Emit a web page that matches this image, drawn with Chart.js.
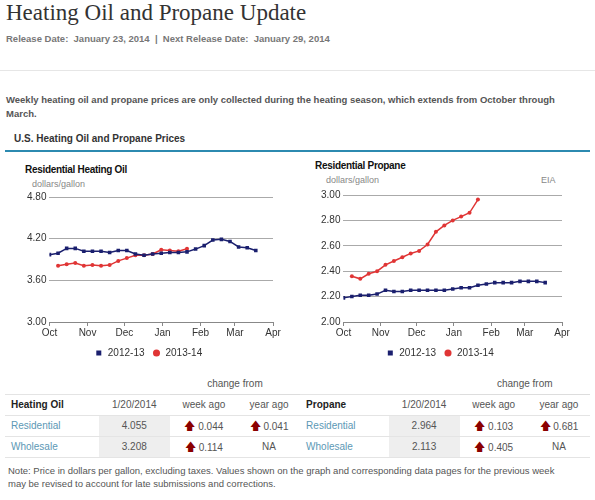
<!DOCTYPE html>
<html><head><meta charset="utf-8">
<script src="https://cdn.jsdelivr.net/npm/chart.js@4/dist/chart.umd.min.js"></script>
<style>
body{margin:0;width:595px;height:500px;background:#fff;font-family:Arial,"Liberation Sans",sans-serif;position:relative;overflow:hidden;color:#333}
.abs{position:absolute}
h1{position:absolute;left:6px;top:0;margin:0;font-family:"Liberation Serif","DejaVu Serif",serif;font-weight:normal;font-size:23px;color:#333}
.rel{left:6px;top:33px;font-size:9.5px;color:#777;font-weight:bold}
.intro{left:6px;top:93px;font-size:9.5px;color:#555;width:570px;line-height:14px;font-weight:bold}
.sec{left:14px;top:133px;font-size:10px;font-weight:bold;color:#333}
.bar{left:5px;top:150px;width:585px;height:2px;background:#2c8ab0}
.ct{font-size:10px;font-weight:bold;color:#111;letter-spacing:-0.3px}
.un{font-size:9px;color:#888}
table{position:absolute;left:5px;top:374px;width:585px;border-collapse:collapse;font-size:10px;color:#555}
td{height:20px;padding:0;line-height:12px;text-align:center;border-bottom:1px solid #e4e4e4}
td.l{text-align:left;padding-left:6px}
td.hd{color:#222;font-weight:bold}
td.lk{color:#5c98b5;text-align:left;padding-left:6px}
td.v{background:#eee}
.up{color:#8b0000;font-size:11px}
.note{left:8px;top:464px;font-size:9.5px;color:#555;width:560px;line-height:13px}
</style></head><body>
<h1>Heating Oil and Propane Update</h1>
<div class="abs rel">Release Date:&nbsp; January 23, 2014 &nbsp;|&nbsp; Next Release Date:&nbsp; January 29, 2014</div>
<div class="abs" style="left:0;top:70px;width:595px;height:1px;background:#e6e6e6"></div>
<div class="abs intro">Weekly heating oil and propane prices are only collected during the heating season, which extends from October through March.</div>
<div class="abs sec">U.S. Heating Oil and Propane Prices</div>
<div class="abs bar"></div>
<div class="abs ct" style="left:25px;top:164px">Residential Heating Oil</div>
<div class="abs un" style="left:32px;top:179px">dollars/gallon</div>
<div class="abs ct" style="left:315px;top:160px">Residential Propane</div>
<div class="abs un" style="left:326px;top:175px">dollars/gallon</div>
<div class="abs un" style="left:541px;top:175px">EIA</div>
<div class="abs" style="left:10px;top:188px;width:285px;height:180px"><canvas id="c1"></canvas></div>
<div class="abs" style="left:300px;top:186px;width:290px;height:182px"><canvas id="c2"></canvas></div>
<table>
<tr><td></td><td></td><td colspan="2" style="border-bottom:1px solid #ddd">change from</td><td></td><td></td><td colspan="2" style="border-bottom:1px solid #ddd">change from</td></tr>
<tr><td class="l hd">Heating Oil</td><td>1/20/2014</td><td>week ago</td><td>year ago</td><td class="l hd">Propane</td><td>1/20/2014</td><td>week ago</td><td>year ago</td></tr>
<tr><td class="lk">Residential</td><td class="v">4.055</td><td><span class="up">&#129093;</span> 0.044</td><td><span class="up">&#129093;</span> 0.041</td><td class="lk">Residential</td><td class="v">2.964</td><td><span class="up">&#129093;</span> 0.103</td><td><span class="up">&#129093;</span> 0.681</td></tr>
<tr><td class="lk">Wholesale</td><td class="v">3.208</td><td><span class="up">&#129093;</span> 0.114</td><td>NA</td><td class="lk">Wholesale</td><td class="v">2.113</td><td><span class="up">&#129093;</span> 0.405</td><td>NA</td></tr>
</table>
<div class="abs note">Note: Price in dollars per gallon, excluding taxes. Values shown on the graph and corresponding data pages for the previous week may be revised to account for late submissions and corrections.</div>
<script>
// days since Oct 1 for month ticks
const monthLabels = ['Oct','Nov','Dec','Jan','Feb','Mar','Apr'];
const monthDays = [0,31,61,92,123,151,182];
const seriesNames = ['2012-13','2013-14'];
// weekly points: 2012-13 starts day 0, 2013-14 starts day 7
const oil1213 = [3.97,3.99,4.06,4.06,4.02,4.02,4.02,4.00,4.03,4.03,3.98,3.96,3.98,3.99,4.00,4.00,4.01,4.05,4.10,4.18,4.19,4.16,4.08,4.07,4.03];
const oil1314 = [3.81,3.83,3.85,3.81,3.82,3.81,3.82,3.88,3.92,3.96,3.96,3.98,4.04,4.03,4.02,4.055];
const pro1213 = [2.19,2.20,2.21,2.21,2.22,2.25,2.24,2.24,2.25,2.25,2.25,2.25,2.25,2.26,2.27,2.27,2.29,2.30,2.31,2.31,2.31,2.32,2.32,2.32,2.31];
const pro1314 = [2.36,2.34,2.38,2.40,2.45,2.48,2.51,2.54,2.56,2.61,2.71,2.76,2.80,2.83,2.86,2.964];
const oilTicks = [3.0,3.6,4.2,4.8];
const proTicks = [2.0,2.2,2.4,2.6,2.8,3.0];

const toPts = (arr, start) => arr.map((v,i)=>({x:start+7*i, y:v}));

function makeChart(id, a, b, yt, pad){
  new Chart(document.getElementById(id), {
    type:'line',
    data:{datasets:[
      {label:seriesNames[0], data:toPts(a,0), borderColor:'#1a1f6e', backgroundColor:'#1a1f6e', pointStyle:'rect', pointRadius:2.5, borderWidth:1.5, pointBorderWidth:0},
      {label:seriesNames[1], data:toPts(b,7), borderColor:'#e03535', backgroundColor:'#e03535', pointStyle:'circle', pointRadius:2, borderWidth:1.5, pointBorderWidth:0}
    ]},
    options:{
      animation:false, responsive:true, maintainAspectRatio:false,
      layout:{padding:pad},
      plugins:{legend:{position:'bottom', labels:{usePointStyle:true, boxWidth:8, boxHeight:5, color:'#333', font:{size:10}, padding:8}}, tooltip:{enabled:false}},
      scales:{
        x:{type:'linear', min:0, max:182,
          afterBuildTicks: ax => { ax.ticks = monthDays.map(v=>({value:v})); },
          ticks:{color:'#333', font:{size:10}, maxRotation:0, autoSkip:false, padding:1, callback:(v)=>monthLabels[monthDays.indexOf(v)]},
          grid:{display:true, drawOnChartArea:false, color:'#888', tickLength:4}, border:{color:'#888'}},
        y:{min:yt[0], max:yt[yt.length-1],
          afterBuildTicks: ax => { ax.ticks = yt.map(v=>({value:v})); },
          ticks:{color:'#333', font:{size:10}, callback:v=>v.toFixed(2)},
          grid:{color:'#aaa', drawTicks:false}, border:{display:false}}
      }
    }
  });
}
makeChart('c1', oil1213, oil1314, oilTicks, {left:14, right:22, top:4});
makeChart('c2', pro1213, pro1314, proTicks, {left:18, right:28, top:4});
</script>
</body></html>
